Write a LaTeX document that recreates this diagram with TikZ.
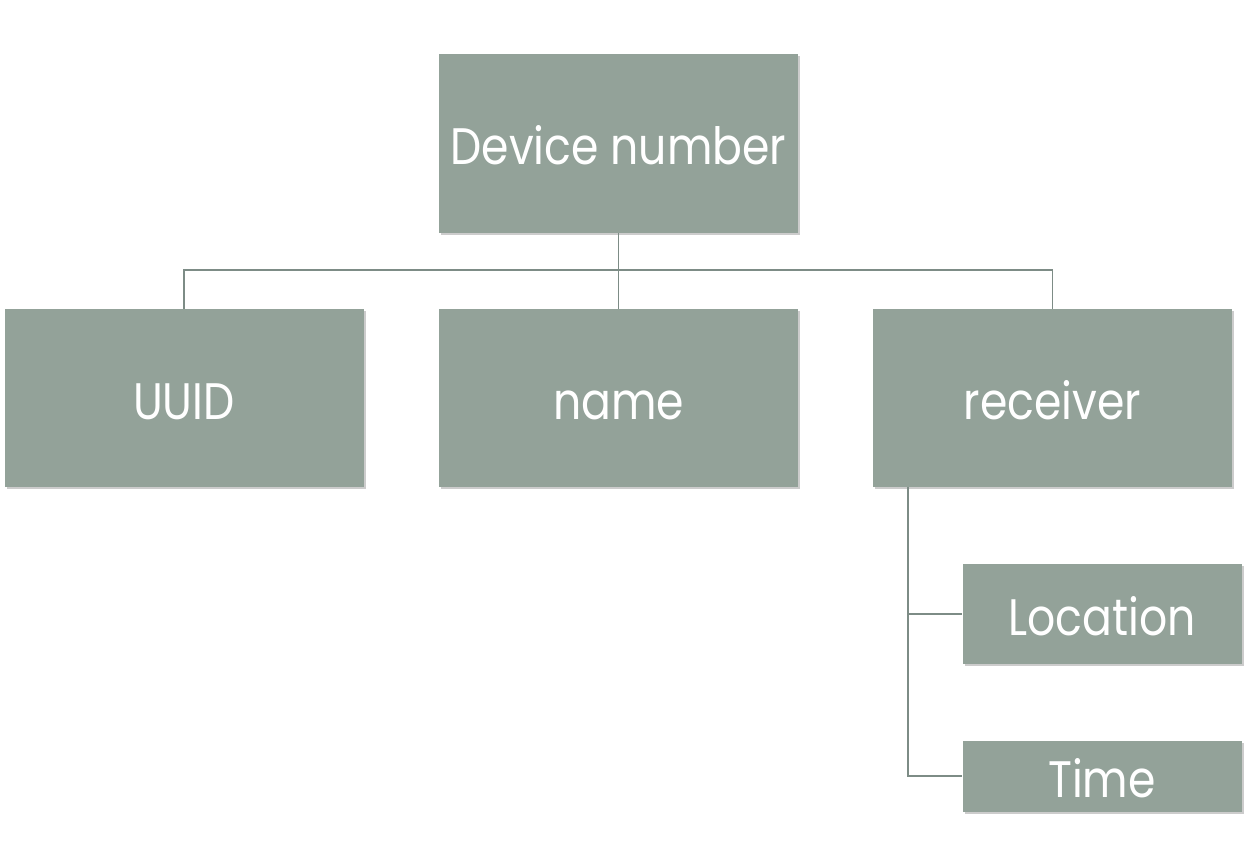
\documentclass[tikz,border=0pt]{standalone}
\usepackage{fontspec}
\setmainfont{Poppins}[FakeStretch=0.86]
\usetikzlibrary{shadows,calc}
\definecolor{boxfill}{HTML}{93A299}
\definecolor{linecol}{HTML}{7D8C86}
\tikzset{
  box/.style={draw=none, fill=boxfill, inner sep=0pt, text=white,
    font=\fontsize{38.5}{42}\selectfont, text height=32pt, text depth=0pt,
    drop shadow={shadow xshift=1.8pt, shadow yshift=-1.5pt, opacity=0.4}},
  conn/.style={draw=linecol, line width=1.3pt}
}
\begin{document}
\begin{tikzpicture}[x=0.75pt,y=-0.75pt]
\useasboundingbox (0,0) rectangle (1254,867);
\node[box, minimum width=359*0.75pt, minimum height=179*0.75pt] (dev) at (618.5,143.5) {Device number};
\node[box, minimum width=359*0.75pt, minimum height=178*0.75pt] (uuid) at (184,398) {UUID};
\node[box, minimum width=359*0.75pt, minimum height=178*0.75pt] (name) at (618.5,398) {name};
\node[box, minimum width=359*0.75pt, minimum height=178*0.75pt] (recv) at (1052.5,398) {receiver};
\node[box, minimum width=279*0.75pt, minimum height=100*0.75pt] (loc) at (1102,614) {Location};
\node[box, minimum width=279*0.75pt, minimum height=71*0.75pt] (time) at (1102,776) {Time};
\coordinate (hub) at (618.5,270);
\coordinate (rt) at ($(recv.south west)+(35,0)$);
\draw[conn] (dev.south) -- (hub);
\draw[conn] (hub) -| (uuid.north);
\draw[conn] (hub) -- (name.north);
\draw[conn] (hub) -| (recv.north);
\draw[conn] (rt) |- (loc.west);
\draw[conn] (rt) |- (time.west);
\end{tikzpicture}
\end{document}
